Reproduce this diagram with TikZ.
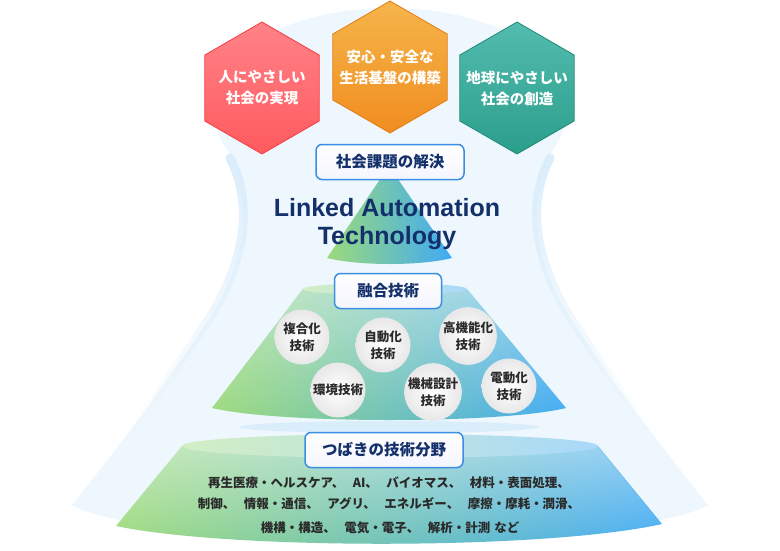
\documentclass[tikz,border=0pt]{standalone}
\usepackage{fontspec}
\setmainfont{Liberation Sans}
\newfontfamily\jp{Noto Sans CJK JP}
\usetikzlibrary{shapes,fadings}
\definecolor{navy}{HTML}{13306B}
\definecolor{boxline}{HTML}{3B8FE2}
\definecolor{leafgreen}{HTML}{9CDA7B}
\definecolor{skyblue}{HTML}{40AAF4}
\definecolor{glow}{HTML}{EEF7FD}
\definecolor{glowedge}{HTML}{DAEDFB}
\definecolor{textgray}{HTML}{2A2A2A}
\definecolor{redtop}{HTML}{FF8288}
\definecolor{redbot}{HTML}{FF5A5E}
\definecolor{redline}{HTML}{F23C40}
\definecolor{orangetop}{HTML}{F5B54A}
\definecolor{orangebot}{HTML}{F18D20}
\definecolor{orangeline}{HTML}{E57C12}
\definecolor{tealtop}{HTML}{52BCAE}
\definecolor{tealbot}{HTML}{2C9E8C}
\definecolor{tealline}{HTML}{1F8A78}
\newcommand{\fgap}{\hspace{8.5pt}}
\tikzstyle{hexa}=[regular polygon,regular polygon sides=6,shape border rotate=30,minimum size=132pt,inner sep=0pt,
    line width=.8pt]
\tikzstyle{goal}=[text=white,font=\jp\bfseries\fontsize{14.5}{21}\selectfont,align=center,inner sep=0pt]
\tikzstyle{title}=[draw=boxline,line width=1.5pt,rounded corners=6pt,top color=white,bottom color=blue!4,
    minimum height=35pt,text=navy,font=\jp\bfseries\fontsize{15.5}{18}\selectfont]
\tikzstyle{skill}=[circle,minimum size=55pt,inner sep=0pt,inner color=white,outer color=blue!5!black!9,
    text=textgray,font=\jp\bfseries\fontsize{12.5}{17}\selectfont,align=center]
\tikzstyle{field}=[text=textgray,font=\jp\bfseries\fontsize{12.5}{15}\selectfont,inner sep=0pt]
\tikzstyle{cone}=[left color=leafgreen,right color=skyblue]

\begin{document}
\begin{tikzpicture}[x=1pt,y=-1pt]
    \useasboundingbox (0,0) rectangle (780,550);
    % First we draw the pale glow behind everything
    \fill[glow] (226,148) .. controls (254,200) and (248,262) .. (205,325)
        .. controls (165,385) and (120,445) .. (72,505)
        .. controls (150,550) and (630,550) .. (708,505)
        .. controls (660,445) and (615,385) .. (575,325)
        .. controls (532,262) and (526,200) .. (554,148)
        .. controls (600,80) and (520,8) .. (390,8)
        .. controls (260,8) and (180,80) .. (226,148) -- cycle;
    \draw[glowedge,line width=9pt,line cap=round,path fading=south] (230,158) .. controls (254,205) and (246,262) .. (205,325)
        .. controls (180,362) and (160,392) .. (135,425);
    \draw[glowedge,line width=9pt,line cap=round,path fading=south] (550,158) .. controls (526,205) and (534,262) .. (575,325)
        .. controls (600,362) and (620,392) .. (645,425);

    % Base cone
    \shade[cone] (182,446) -- (116,526) .. controls (230,550) and (545,550) .. (662,524) -- (598,446) -- cycle;
    \fill[white,opacity=.45,path fading=south] (182,446) -- (116,526) .. controls (230,550) and (545,550) .. (662,524) -- (598,446) -- cycle;
    \shade[left color=leafgreen!45!white,right color=skyblue!45!white] (390,446) ellipse [x radius=208,y radius=12];

    % Middle cone
    \fill[glowedge] (389,427) ellipse [x radius=150,y radius=6];
    \shade[cone] (303,289) -- (212,408) .. controls (280,424) and (500,424) .. (566,408) -- (467,289) -- cycle;
    \fill[white,opacity=.45,path fading=south] (303,289) -- (212,408) .. controls (280,424) and (500,424) .. (566,408) -- (467,289) -- cycle;
    \shade[left color=leafgreen!45!white,right color=skyblue!45!white] (385,289) ellipse [x radius=82,y radius=6];

    % Top cone
    \shade[cone] (389,166) -- (327,258) .. controls (360,266) and (420,266) .. (452,258) -- cycle;

    % Goals, then their texts
    \node[hexa,top color=redtop,bottom color=redbot,draw=redline] (people) at (262,88) {};
    \node[hexa,top color=orangetop,bottom color=orangebot,draw=orangeline] (safety) at (390,67) {};
    \node[hexa,top color=tealtop,bottom color=tealbot,draw=tealline] (earth) at (517,88) {};
    \node[goal] (people-txt) at (people.center) {人にやさしい\\社会の実現};
    \node[goal] (safety-txt) at (safety.center) {安心・安全な\\生活基盤の構築};
    \node[goal] (earth-txt) at (earth.center) {地球にやさしい\\社会の創造};

    % Titles
    \node[title,minimum width=148pt] (solve) at (390,162) {社会課題の解決};
    \node[title,minimum width=107pt] (fusion) at (388,291) {融合技術};
    \node[title,minimum width=158pt] (fields) at (384,450) {つばきの技術分野};

    \node[text=navy,font=\bfseries\fontsize{25}{28}\selectfont,align=center] (lat) at (387,224) {Linked Automation\\Technology};

    % Fusion technologies
    \foreach \pos/\name/\txt in {{(302,337)/fukugo/{複合化\\技術}}, {(338,390)/kankyo/{環境技術}},
        {(383,345)/jido/{自動化\\技術}}, {(433,392)/kikai/{機械設計\\技術}},
        {(468,336)/kokino/{高機能化\\技術}}, {(509,386)/dendo/{電動化\\技術}}}
        \node[skill] (\name) at \pos {\txt};

    % Technology fields
    \node[field] (line1) at (389,483) {再生医療・ヘルスケア、\fgap AI、\fgap バイオマス、\fgap 材料・表面処理、};
    \node[field] (line2) at (389,504) {制御、\fgap 情報・通信、\fgap アグリ、\fgap エネルギー、\fgap 摩擦・摩耗・潤滑、};
    \node[field] (line3) at (390,528) {機構・構造、\fgap 電気・電子、\fgap 解析・計測\hspace{4pt}など};
\end{tikzpicture}
\end{document}
